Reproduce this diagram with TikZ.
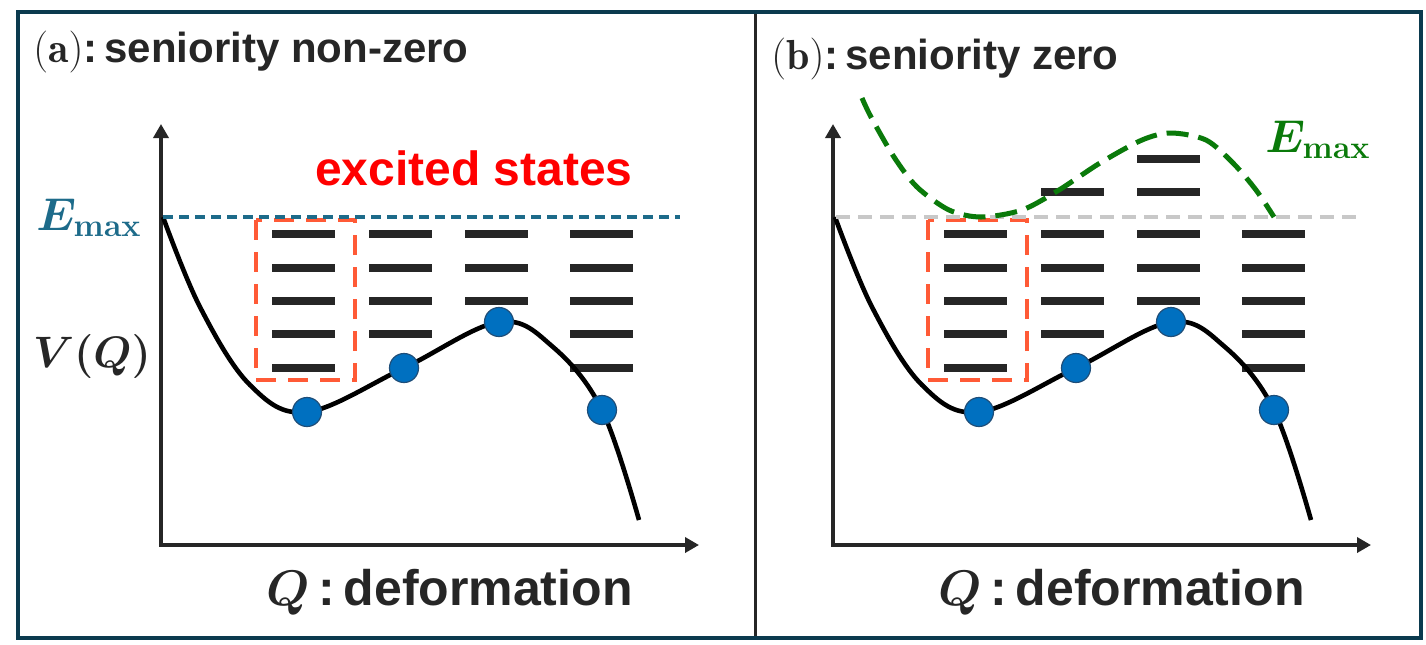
\RequirePackage{fix-cm}
\documentclass[tikz,border=0pt]{standalone}
\usepackage{amsmath}
\usepackage{fontspec}
\newfontfamily\arialf{Liberation Sans}
\usetikzlibrary{arrows.meta}
\definecolor{framecol}{HTML}{0B3A4E}
\definecolor{ink}{HTML}{262626}
\definecolor{emaxblue}{HTML}{1D6B8A}
\definecolor{boxred}{HTML}{FF5A36}
\definecolor{dotblue}{HTML}{0070C0}
\definecolor{dotedge}{HTML}{1F4E79}
\definecolor{emaxgreen}{HTML}{0A7A0A}
\definecolor{capgrey}{HTML}{C8C8C8}

\begin{document}
\begin{tikzpicture}[x=0.5pt, y=-0.5pt,
axis/.style = {draw=ink, line width=2pt, {Triangle[width=7.5pt,length=7pt]}-{Triangle[width=7.5pt,length=7pt]}},
lvl/.style = {draw=ink, line width=3.6pt},
dot/.style = {draw=dotedge, fill=dotblue, circle, inner sep=0pt, minimum size=14.5pt, line width=0.6pt},
wbox/.style = {draw=boxred, line width=2pt, dash pattern=on 10pt off 6pt},
ttl/.style = {anchor=base west, inner sep=0pt, text=ink, font=\fontsize{21}{25}\selectfont},
qlbl/.style = {anchor=base east, inner sep=0pt, text=ink, font=\arialf\bfseries\fontsize{25}{30}\selectfont},
emx/.style = {anchor=base west, inner sep=0pt, font=\fontsize{23}{28}\selectfont}
]
\fill[white] (0,0) rectangle (1426,644);
\useasboundingbox (0,0) rectangle (1426,644);

% both panels: axes, levels, box, potential, points
\foreach \p/\sx in {a/0, b/672}{
\begin{scope}[shift={(\sx,0)}]
\coordinate (o\p) at (161,545);
\coordinate (yt\p) at (161,124);
\coordinate (xt\p) at (699,545);
\draw[axis] (yt\p) -- (o\p) -- (xt\p);
\foreach \c/\r in {272/234,272/268,272/301,272/334,272/368,369/234,369/268,369/301,369/334,465/234,465/268,465/301,570/234,570/268,570/301,570/334,570/368}{\draw[lvl] (\c,\r) -- ++(63,0);}
\draw[wbox] (256,220) rectangle (355,380);
\draw[black, line width=2.3pt] plot[smooth, tension=0.6] coordinates {(163,217) (200,307) (250,385) (307,412) (404,368) (499,322) (553,347) (602,410) (639,520)};
\node[dot] (d1\p) at (307,412) {};
\node[dot] (d2\p) at (404,368) {};
\node[dot] (d3\p) at (499,322) {};
\node[dot] (d4\p) at (602,410) {};
\node[qlbl] (ql\p) at (633,605) {{\boldmath$Q$}\,:\,deformation};
\end{scope}
}

% panel (a)
\coordinate (ela) at (163,217);
\coordinate (era) at (680,217);
\draw[emaxblue, line width=2pt, dash pattern=on 5pt off 3pt] (ela) -- (era);
\node[ttl] (ta) at (33,62) {$(\mathbf{a})${\arialf\bfseries:\,seniority non-zero}};
\node[emx, text=emaxblue] (ema) at (36,230) {{\boldmath$E_{\mathbf{max}}$}};
\node[inner sep=0pt, text=ink, font=\fontsize{22}{26}\selectfont] (vq) at (92,356) {{\boldmath$V(Q)$}};
\node[anchor=base, inner sep=0pt, text=red, font=\arialf\bfseries\fontsize{24}{29}\selectfont] (ex) at (474,185) {excited states};

% panel (b)
\coordinate (elb) at (836,217);
\coordinate (erb) at (1358,217);
\draw[capgrey, line width=1.8pt, dash pattern=on 7pt off 4pt] (elb) -- (erb);
\foreach \c/\r in {1041/192,1137/192,1137/159}{\draw[lvl] (\c,\r) -- ++(63,0);}
\draw[emaxgreen, line width=2.5pt, dash pattern=on 11pt off 5pt] plot[smooth] coordinates {(862,98) (871,117) (894,157) (917,187) (949,210) (981,217) (1022,210) (1059,190) (1100,163) (1142,140) (1171,133) (1206,140) (1233,163) (1256,190) (1274,217)};
\node[ttl] (tb) at (771,69) {$(\mathbf{b})${\arialf\bfseries:\,seniority zero}};
\node[emx, text=emaxgreen] (emb) at (1265,152) {{\boldmath$E_{\mathbf{max}}$}};

% frame
\coordinate (ft) at (755,12);
\coordinate (fb) at (755,638);
\draw[ink, line width=1.5pt] (ft) -- (fb);
\draw[framecol, line width=2pt] (18,12) rectangle (1421,638);
\end{tikzpicture}
\end{document}
